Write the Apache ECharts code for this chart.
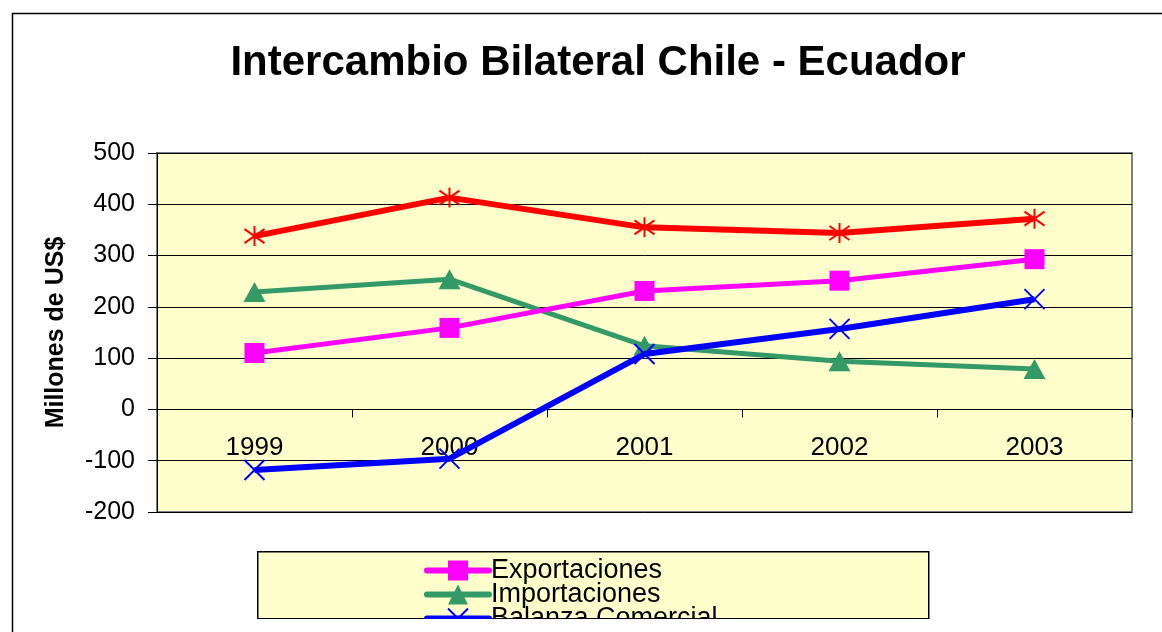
<!DOCTYPE html>
<html>
<head>
<meta charset="utf-8">
<script src="https://cdn.jsdelivr.net/npm/echarts@6/dist/echarts.min.js"></script>
<style>
html,body{margin:0;padding:0;background:#fff;}
#chart{width:1162px;height:632px;}
</style>
</head>
<body>
<div id="chart"></div>
<script>
const years = ['1999', '2000', '2001', '2002', '2003'];
const exportaciones = [110, 159, 231, 251, 293];
const importaciones = [229, 254, 124, 94, 79];
const balanza = [-118, -96, 108, 157, 215];
const intercambio = [338, 413, 355, 344, 372];
const yTicks = { min: -200, max: 500, interval: 100 };

const FONT = 'Liberation Sans, Arial, sans-serif';
const xSym = 'path://M0,0L20,20M20,0L0,20';
const starSym = 'path://M10,0L10,20M1,3L19,17M19,3L1,17';

const W = 1162, H = 632;
const gridTop = 153, gridBottom = 120;
const gridH = H - gridTop - gridBottom;
// place the category axis at y = 0 (labels included)
const zeroOffset = -gridH * (0 - yTicks.min) / (yTicks.max - yTicks.min);

const chart = echarts.init(document.getElementById('chart'));
chart.setOption({
  animation: false,
  backgroundColor: '#ffffff',
  title: {
    text: 'Intercambio Bilateral Chile - Ecuador',
    left: 593, top: 37, textAlign: 'center',
    textStyle: { fontFamily: FONT, fontSize: 42, fontWeight: 'bold', color: '#000' }
  },
  grid: {
    left: 157, right: 30, top: gridTop, bottom: gridBottom,
    show: true, backgroundColor: '#FFFFCC', borderColor: '#808080', borderWidth: 2
  },
  legend: {
    orient: 'vertical', left: 424, top: 557, height: 200, padding: 0,
    itemWidth: 62, itemHeight: 25, itemGap: -3,
    data: ['Exportaciones', 'Importaciones', 'Balanza Comercial'],
    lineStyle: { width: 6, cap: 'round' },
    textStyle: { fontFamily: FONT, fontSize: 27, color: '#000', lineHeight: 22, padding: [0,0,0,-3] }
  },
  xAxis: {
    type: 'category', data: years, boundaryGap: true,
    offset: zeroOffset,
    axisLine: { onZero: false, lineStyle: { color: '#000', width: 1 } },
    axisTick: { show: true, length: 8, lineStyle: { color: '#000' } },
    axisLabel: { fontFamily: FONT, fontSize: 26, color: '#000', margin: 25 },
    splitLine: { show: false }
  },
  yAxis: {
    type: 'value', min: yTicks.min, max: yTicks.max, interval: yTicks.interval,
    name: 'Millones de US$', nameLocation: 'middle', nameGap: 88, nameRotate: 90,
    nameTextStyle: { fontFamily: FONT, fontSize: 25, fontWeight: 'bold', color: '#000' },
    axisLine: { show: true, lineStyle: { color: '#000' } },
    axisTick: { show: true, length: 9, lineStyle: { color: '#000' } },
    axisLabel: { fontFamily: FONT, fontSize: 25, color: '#000', margin: 22 },
    splitLine: { show: true, lineStyle: { color: '#000', width: 1 } }
  },
  series: [
    {
      name: 'Intercambio Comercial', type: 'line', data: intercambio,
      symbol: starSym, symbolSize: [20, 20], z: 3,
      lineStyle: { color: '#FF0000', width: 6 },
      itemStyle: { color: '#FF0000', borderColor: '#FF0000', borderWidth: 2 }
    },
    {
      name: 'Exportaciones', type: 'line', data: exportaciones,
      symbol: 'rect', symbolSize: 20, z: 4,
      lineStyle: { color: '#FF00FF', width: 5 },
      itemStyle: { color: '#FF00FF' }
    },
    {
      name: 'Importaciones', type: 'line', data: importaciones,
      symbol: 'triangle', symbolSize: [22, 20], z: 3,
      lineStyle: { color: '#339966', width: 5 },
      itemStyle: { color: '#339966' }
    },
    {
      name: 'Balanza Comercial', type: 'line', data: balanza,
      symbol: xSym, symbolSize: [20, 20], z: 5,
      lineStyle: { color: '#0000FF', width: 6 },
      itemStyle: { color: '#0000FF', borderColor: '#0000FF', borderWidth: 2 }
    }
  ],
  graphic: [
    { type: 'rect', left: 10, top: 11, shape: { width: 1200, height: 700 }, silent: true, z: -10,
      style: { fill: 'none', stroke: '#000', lineWidth: 1.5 } },
    { type: 'rect', left: 257, top: 551, shape: { width: 671, height: 67 }, silent: true, z: -5,
      style: { fill: '#FFFFCC', stroke: '#000', lineWidth: 1.5 } },
    { type: 'rect', left: 14, top: 619, shape: { width: 1160, height: 20 }, silent: true, z: 100,
      style: { fill: '#ffffff' } }
  ]
});
</script>
</body>
</html>
